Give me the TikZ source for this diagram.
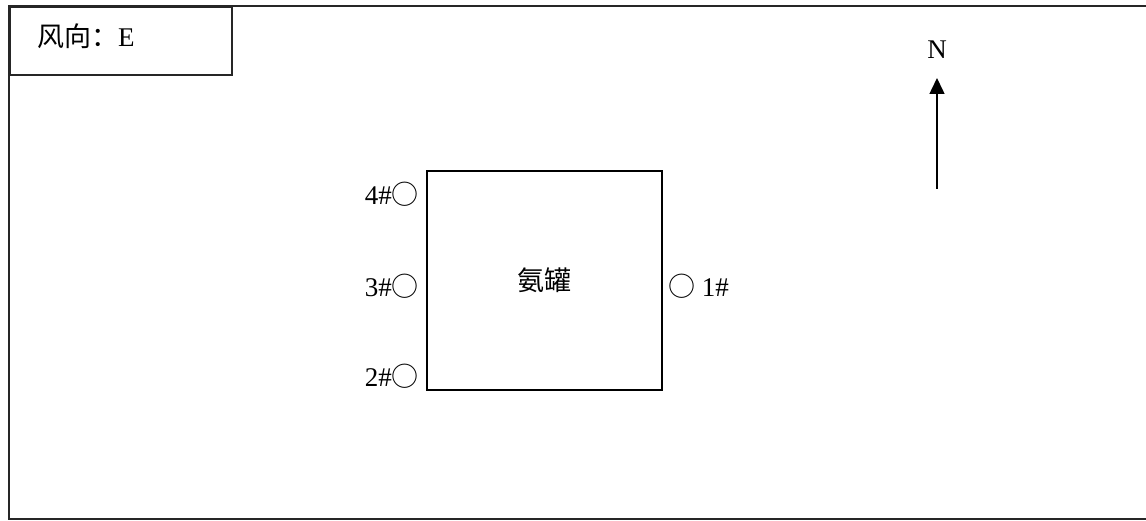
\documentclass[tikz,border=0pt]{standalone}
\usepackage{fontspec}
\setmainfont{Liberation Serif}
\newfontfamily\cjk{Noto Sans CJK SC}
\usetikzlibrary{arrows.meta,positioning}

\begin{document}
\begin{tikzpicture}[x=1pt,y=-1pt,font=\fontsize{27}{32}\selectfont,
frameline/.style={line width=1.8pt,black!85},
welllabel/.style={inner sep=0pt}]
\useasboundingbox (0,0) rectangle (1146,521);
% outer frame, open to the right
\draw[frameline] (1150,6) -- (9,6) -- (9,519) -- (1150,519);
\node[frameline,draw,anchor=north west,minimum width=222pt,minimum height=68pt] (legend) at (9,6) {};
\node[anchor=west,inner sep=0pt] (wind) at (37,36) {{\cjk 风向：}E};
% tank
\node[draw,line width=1.5pt,minimum width=235pt,minimum height=219pt,inner sep=0pt] (tank) at (544.5,280.5) {\raisebox{-3pt}{\cjk 氨罐}};
\node[welllabel,anchor=east] (w4) at (419,194) {4\#{\cjk ○}};
\node[welllabel,anchor=east] (w3) at (419,286) {3\#{\cjk ○}};
\node[welllabel,anchor=east] (w2) at (419,376) {2\#{\cjk ○}};
\node[welllabel,anchor=west] (w1) at (668,286) {{\cjk ○} 1\#};
% north arrow
\node (north) at (937,50) {N};
\coordinate (tail) at (937,189);
\coordinate (tip) at (937,78);
\draw[line width=1.5pt,-{Triangle[length=16pt,width=15pt]}] (tail) -- (tip);
\end{tikzpicture}
\end{document}
